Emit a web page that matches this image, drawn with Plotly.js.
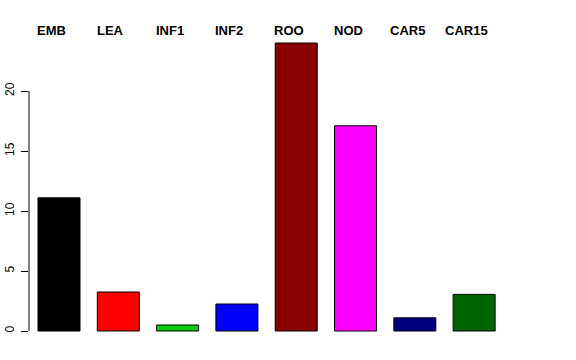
<!DOCTYPE html>
<html>
<head>
<meta charset="utf-8">
<script src="https://cdn.plot.ly/plotly-3.0.1.min.js"></script>
<style>html,body{margin:0;padding:0;background:#fff;}#chart{width:576px;height:360px;}</style>
</head>
<body>
<div id="chart"></div>
<script>
const categories = ["EMB", "LEA", "INF1", "INF2", "ROO", "NOD", "CAR5", "CAR15"];
const values = [11.1, 3.25, 0.5, 2.25, 24.0, 17.1, 1.1, 3.05];
const colors = ["#000000", "#FF0000", "#00CD00", "#0000FF", "#8B0000", "#FF00FF", "#000080", "#006400"];
const yTicks = [0, 5, 10, 15, 20];

const xPos = categories.map((c, i) => 0.7 + 1.2 * i);

const trace = {
  type: "bar",
  x: xPos,
  y: values,
  width: categories.map(() => 0.85),
  marker: { color: colors, line: { color: "#000000", width: 1 } },
  hoverinfo: "none"
};

const annotations = categories.map((c, i) => ({
  x: xPos[i], xref: "x",
  y: 1, yref: "paper",
  text: c,
  showarrow: false,
  xanchor: "center", yanchor: "middle",
  xshift: -7.5, yshift: 1,
  font: { family: "Liberation Sans, Arial, sans-serif", size: 13, color: "#000", weight: "bold" }
}));

const layout = {
  width: 576, height: 360,
  margin: { l: 29, r: 64, t: 31, b: 18, pad: 0 },
  paper_bgcolor: "#fff", plot_bgcolor: "#fff",
  showlegend: false,
  bargap: 0,
  xaxis: { range: [0.093, 9.866], visible: false, fixedrange: true },
  yaxis: {
    range: [-0.9167, 25],
    tickvals: yTicks,
    ticktext: yTicks.map(String),
    ticks: "outside", ticklen: 7, tickwidth: 1, tickcolor: "#000",
    tickangle: -90,
    ticklabelstandoff: 2,
    tickfont: { family: "Liberation Sans, Arial, sans-serif", size: 12, color: "#000" },
    showgrid: false, zeroline: false, showline: false,
    fixedrange: true
  },
  shapes: [{
    type: "line", xref: "paper", yref: "y",
    x0: 0, x1: 0, y0: yTicks[0], y1: yTicks[yTicks.length - 1],
    line: { color: "#000", width: 1 }
  }],
  annotations: annotations
};

Plotly.newPlot("chart", [trace], layout, { staticPlot: true, displayModeBar: false });
</script>
</body>
</html>
